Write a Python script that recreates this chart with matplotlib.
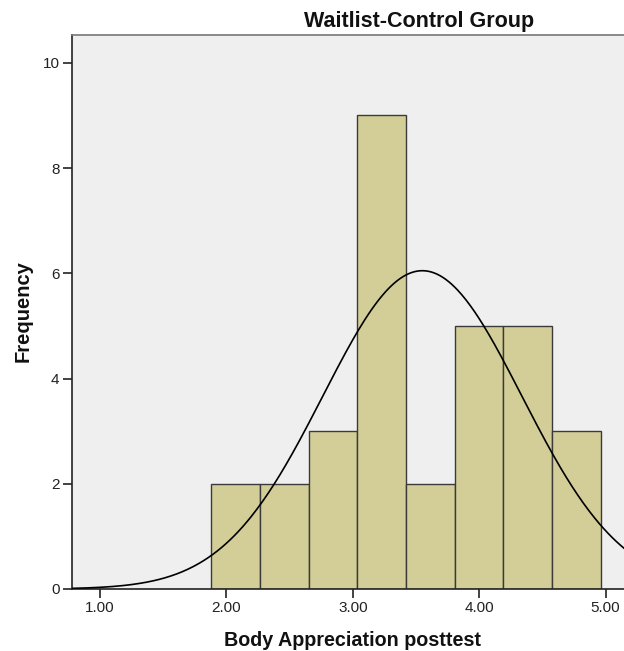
import numpy as np
import matplotlib
matplotlib.use("Agg")
import matplotlib.pyplot as plt

# Histogram bins and counts
bin_edges = [1.88, 2.265, 2.65, 3.035, 3.42, 3.805, 4.19, 4.575, 4.96]
counts = [2, 2, 3, 9, 2, 5, 5, 3]
n_total = 31
mean_val = 3.55
sd_val = 0.787

x_ticks = [1.0, 2.0, 3.0, 4.0, 5.0]
x_tick_labels = ["1.00", "2.00", "3.00", "4.00", "5.00"]
y_ticks = [0, 2, 4, 6, 8, 10]

plt.rcParams['font.family'] = ['Liberation Sans', 'DejaVu Sans']

fig = plt.figure(figsize=(6.24, 6.51), dpi=100)
W, H = 624, 651
left_px, right_px, top_px, bottom_px = 72, 632, 35, 589
ax = fig.add_axes([left_px / W, 1 - bottom_px / H,
                   (right_px - left_px) / W, (bottom_px - top_px) / H])
ax.set_facecolor('#EFEFEF')

widths = np.diff(bin_edges)
ax.bar(bin_edges[:-1], counts, width=widths, align='edge',
       color='#D3CE97', edgecolor='#3A3A3A', linewidth=1.0, zorder=2)

# Normal curve scaled to counts
xs = np.linspace(0.78, 5.3, 400)
bw = np.mean(widths)
ys = n_total * bw / (sd_val * np.sqrt(2 * np.pi)) * np.exp(-0.5 * ((xs - mean_val) / sd_val) ** 2)
ax.plot(xs, ys, color='black', linewidth=1.2, zorder=3)

ax.set_xlim(0.778, 5.0 + (right_px - 605.6) / 126.4)
ax.set_ylim(0, 10.53)

ax.set_xticks(x_ticks)
ax.set_xticklabels(x_tick_labels, fontsize=11)
ax.set_yticks(y_ticks)
ax.set_yticklabels([str(v) for v in y_ticks], fontsize=11)
ax.tick_params(axis='both', direction='out', length=6.5, width=1.2, color='#222222',
               labelcolor='#222222', pad=2.5)

ax.spines['right'].set_visible(False)
ax.spines['top'].set_color('#777777')
ax.spines['top'].set_linewidth(1.2)
ax.spines['left'].set_color('#222222')
ax.spines['left'].set_linewidth(1.2)
ax.spines['bottom'].set_color('#222222')
ax.spines['bottom'].set_linewidth(1.2)

fig.text(419 / W, 1 - 27 / H, "Waitlist-Control Group", ha='center', va='baseline',
         fontsize=15.5, fontweight='bold', color='#111111')
fig.text(353 / W, 1 - 646 / H, "Body Appreciation posttest", ha='center', va='baseline',
         fontsize=14.2, fontweight='bold', color='#111111')
fig.text(23.5 / W, 1 - 311 / H, "Frequency", ha='center', va='center', rotation=90,
         fontsize=14.5, fontweight='bold', color='#111111')

fig.savefig("out.png", dpi=100)
